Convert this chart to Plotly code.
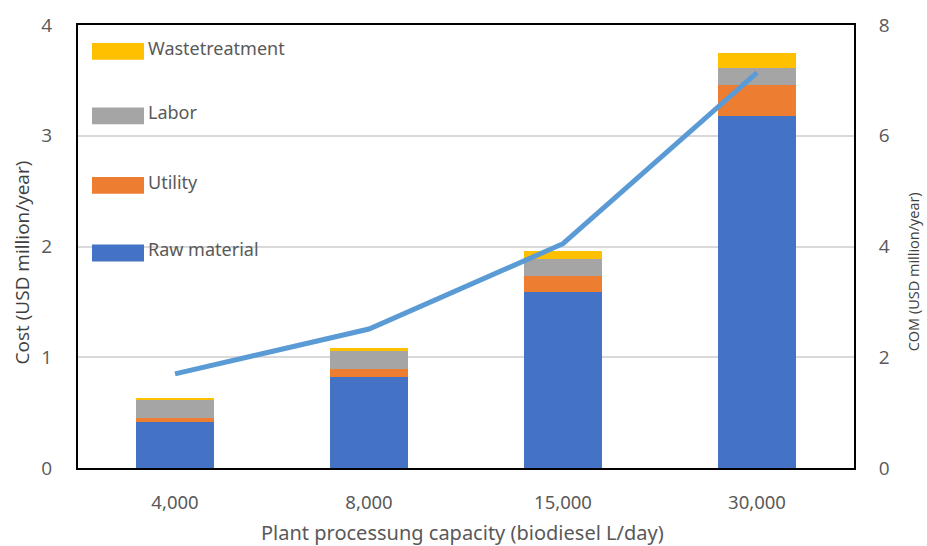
import plotly.graph_objects as go

# Plant capacities (biodiesel L/day)
capacities = ["4,000", "8,000", "15,000", "30,000"]

# Annual cost components (USD million/year)
raw_material = [0.415, 0.82, 1.59, 3.18]
utility = [0.04, 0.07, 0.14, 0.275]
labor = [0.16, 0.165, 0.16, 0.16]
waste_treatment = [0.02, 0.03, 0.07, 0.135]

# Cost of manufacturing (USD million/year), right axis
com = [1.70, 2.51, 4.05, 7.14]

series = [
    ("Raw material", raw_material, "#4472C4"),
    ("Utility", utility, "#ED7D31"),
    ("Labor", labor, "#A5A5A5"),
    ("Wastetreatment", waste_treatment, "#FFC000"),
]

fig = go.Figure()
for name, vals, color in series:
    fig.add_trace(go.Bar(x=capacities, y=vals, name=name, marker_color=color,
                         marker_line_width=0, showlegend=False))

fig.add_trace(go.Scatter(x=capacities, y=com, name="COM", mode="lines",
                         line=dict(color="#5B9BD5", width=5), yaxis="y2",
                         showlegend=False))

# Legend drawn as swatches + labels inside the plot area
W, H = 927, 546
L, R, T, B = 78, 73, 22, 78
pw, ph = W - L - R, H - T - B


def px(x):
    return (x - L) / pw


def py(y):
    return (H - B - y) / ph


legend_rows = [("Wastetreatment", "#FFC000", 40), ("Labor", "#A5A5A5", 105),
               ("Utility", "#ED7D31", 175), ("Raw material", "#4472C4", 243)]
shapes = []
annotations = []
for label, color, ytop in legend_rows:
    shapes.append(dict(type="rect", xref="paper", yref="paper",
                       x0=px(92), x1=px(144), y0=py(ytop + 17), y1=py(ytop),
                       fillcolor=color, line_width=0, layer="above"))
    annotations.append(dict(text=label, xref="paper", yref="paper",
                            x=px(146), y=py(ytop + 5), xanchor="left", yanchor="middle",
                            showarrow=False,
                            font=dict(family="Noto Sans", size=18, color="#595959")))

# Axis titles placed at fixed positions
annotations += [
    dict(text="Plant processung capacity (biodiesel L/day)", xref="paper", yref="paper",
         x=px(462), y=py(533), xanchor="center", yanchor="middle", showarrow=False,
         font=dict(family="Noto Sans", size=20, color="#595959")),
    dict(text="Cost (USD million/year)", xref="paper", yref="paper",
         x=px(22), y=py(261), xanchor="center", yanchor="middle", showarrow=False,
         textangle=-90, font=dict(family="Open Sans", size=19, color="#404040")),
    dict(text="COM (USD million/year)", xref="paper", yref="paper",
         x=px(913), y=py(271), xanchor="center", yanchor="middle", showarrow=False,
         textangle=-90, font=dict(family="Open Sans", size=14.5, color="#404040")),
]

fig.update_layout(
    width=W, height=H,
    margin=dict(l=L, r=R, t=T, b=B),
    plot_bgcolor="white", paper_bgcolor="white",
    barmode="stack", bargap=0.6,
    shapes=shapes, annotations=annotations,
    xaxis=dict(
        tickfont=dict(family="Noto Sans", size=18.5, color="#595959"),
        ticklabelstandoff=17,
        showline=True, linecolor="black", linewidth=2, mirror=True,
        ticks="", showgrid=False,
    ),
    yaxis=dict(
        range=[0, 4], dtick=1,
        tickfont=dict(family="Open Sans", size=19, color="#595959"),
        ticklabelstandoff=20,
        showline=True, linecolor="black", linewidth=2,
        gridcolor="#D9D9D9", gridwidth=1.5, zeroline=False, ticks="",
    ),
    yaxis2=dict(
        range=[0, 8], dtick=2, overlaying="y", side="right",
        tickfont=dict(family="Open Sans", size=19, color="#595959"),
        ticklabelstandoff=19,
        showline=True, linecolor="black", linewidth=2,
        showgrid=False, zeroline=False, ticks="",
    ),
)

fig.write_html("out.html")
